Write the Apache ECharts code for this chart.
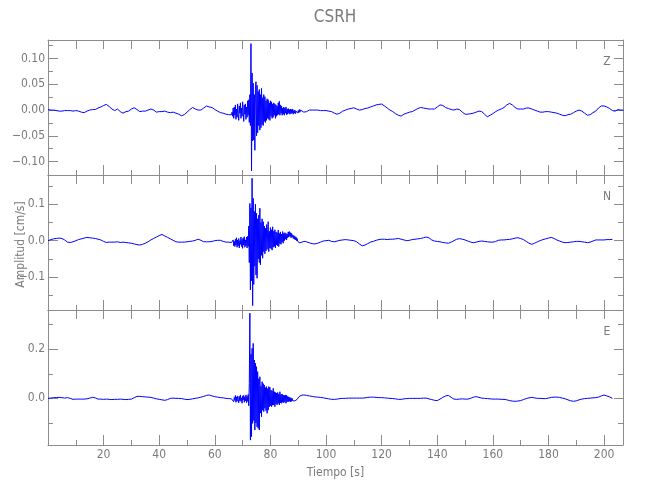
<!DOCTYPE html>
<html><head><meta charset="utf-8">
<script src="https://cdn.jsdelivr.net/npm/echarts@6/dist/echarts.min.js"></script>
<style>html,body{margin:0;padding:0;background:#fff}#c{width:650px;height:500px}</style>
</head><body><div id="c"></div>
<script>
// ---------------- data ----------------
const chartTitle = 'CSRH';
const components = ['Z', 'N', 'E'];
const xLabelName = 'Tiempo [s]';
const yLabelName = 'Amplitud [cm/s]';

// sampling of the traces: pre-event (1 s), strong motion (0.2 s), coda (1 s)
const sampleStart = [0, 66.2, 92];
const sampleStep = [1, 0.2, 1];

// tick labels
const xTickLabels = [20, 40, 60, 80, 100, 120, 140, 160, 180, 200];
const xMinorTicks = [10, 30, 50, 70, 90, 110, 130, 150, 170, 190];
const yTickLabels = [[-0.10, -0.05, 0, 0.05, 0.10], [-0.1, 0, 0.1], [0, 0.2]];
const yMinorTicks = [[-0.075, -0.025, 0.025, 0.075, 0.125], [-0.15, -0.05, 0.05, 0.15], [-0.1, 0.1, 0.3]];
const yDecimals = [2, 1, 1];

// Z component
const zPre = [
  0.001, 0.000, 0.000, -0.001, -0.002, -0.002, -0.001, -0.001, -0.001, -0.002,
  -0.001, -0.002, -0.004, -0.005, -0.002, 0.000, 0.001, 0.001, 0.004, 0.006,
  0.009, 0.011, 0.007, 0.002, -0.001, 0.002, -0.003, -0.006, -0.003, -0.002,
  0.002, 0.0045, 0.001, -0.003, -0.002, -0.002, 0.000, 0.002, 0.000, -0.004,
  -0.003, -0.003, -0.002, -0.004, -0.005, -0.004, -0.006, -0.008, -0.011, -0.009,
  -0.004, 0.001, 0.005, 0.002, 0.000, 0.000, 0.004, 0.008, 0.006, 0.005,
  0.001, -0.002, -0.005, -0.006, -0.008, -0.009, -0.009
];
const zBurst = [
  -0.004, -0.012, 0.004, -0.016, 0.006,
  -0.010, 0.010, -0.018, 0.002, -0.014,
  0.012, -0.008, -0.020, 0.008, -0.006,
  0.014, -0.016, 0.004, -0.012, 0.016,
  -0.004, -0.022, 0.010, -0.008, 0.012,
  -0.018, 0.006, -0.014, 0.018, -0.010,
  0.020, -0.024, 0.030, -0.030, 0.129,
  -0.118, 0.072, -0.060, 0.052, -0.058,
  0.030, -0.078, 0.040, 0.055, -0.050,
  0.048, -0.044, 0.036, -0.030, 0.040,
  -0.039, 0.030, -0.034, 0.042, -0.028,
  0.024, -0.030, 0.030, -0.022, 0.026,
  -0.024, 0.018, -0.020, 0.022, -0.016,
  0.020, -0.018, 0.014, -0.020, 0.018,
  -0.012, 0.016, -0.016, 0.012, -0.014,
  0.014, -0.010, 0.012, -0.016, 0.010,
  -0.012, 0.008, -0.010, 0.014, -0.008,
  0.017, -0.010, 0.010, -0.006, 0.008,
  -0.010, 0.004, -0.008, 0.006, -0.010,
  0.004, -0.006, 0.006, -0.009, 0.002,
  -0.008, 0.003, -0.006, 0.001, -0.008,
  0.002, -0.007, 0.001, -0.006, 0.002,
  -0.008, -0.001, -0.006, 0.000, -0.007,
  -0.002, -0.005, 0.000, -0.006, -0.001,
  -0.005, 0.001, -0.004, 0.000, -0.003
];
const zPost = [
  -0.004, -0.003, 0.000, 0.000, 0.000, 0.000, -0.001, -0.001, -0.001, -0.002,
  -0.003, -0.006, -0.008, -0.006, -0.002, 0.000, 0.002, 0.003, 0.0045, 0.002,
  0.000, 0.001, 0.003, 0.004, 0.006, 0.008, 0.010, 0.011, 0.0117, 0.008,
  0.004, 0.000, -0.003, -0.007, -0.010, -0.0117, -0.008, -0.006, -0.004, -0.003,
  0.000, 0.003, 0.005, 0.004, 0.003, 0.002, 0.002, 0.002, 0.006, 0.010,
  0.009, 0.005, 0.003, 0.001, 0.000, 0.002, 0.001, -0.004, -0.008, -0.008,
  -0.007, -0.006, -0.004, -0.002, -0.003, -0.008, -0.013, -0.010, -0.007, -0.003,
  0.000, 0.002, 0.005, 0.010, 0.013, 0.010, 0.005, 0.002, 0.002, 0.002,
  0.004, 0.004, 0.002, 0.000, -0.002, -0.004, -0.004, -0.003, -0.003, -0.004,
  -0.005, -0.006, -0.008, -0.010, -0.011, -0.009, -0.008, -0.005, -0.002, 0.000,
  -0.002, -0.006, -0.010, -0.009, -0.005, -0.002, 0.004, 0.008, 0.008, 0.006,
  0.003, -0.001, -0.002, 0.001, 0.000, 0.000
];

// N component
const nPre = [
  0.000, 0.003, 0.005, 0.006, 0.007, 0.006, 0.002, -0.004, -0.005, -0.003,
  0.000, 0.003, 0.005, 0.007, 0.009, 0.008, 0.007, 0.006, 0.004, 0.002,
  -0.002, -0.005, -0.004, -0.004, -0.004, -0.003, -0.005, -0.004, -0.005, -0.006,
  -0.007, -0.009, -0.011, -0.012, -0.010, -0.007, -0.003, 0.002, 0.006, 0.010,
  0.014, 0.017, 0.013, 0.009, 0.005, 0.001, -0.003, -0.004, -0.004, -0.004,
  -0.003, -0.002, -0.001, 0.001, 0.004, 0.001, -0.003, -0.003, -0.003, -0.002,
  0.000, 0.001, 0.001, -0.002, -0.004, -0.004, -0.005
];
const nBurst = [
  -0.004, -0.010, 0.002, -0.014, -0.002,
  -0.016, 0.004, -0.012, 0.008, -0.018,
  0.002, -0.014, 0.006, -0.020, 0.000,
  -0.010, 0.010, -0.016, 0.004, -0.021,
  0.008, -0.012, 0.011, -0.018, 0.002,
  -0.014, 0.010, -0.020, 0.012, -0.016,
  0.040, -0.060, 0.102, -0.135, 0.090,
  -0.110, 0.171, -0.178, 0.116, -0.120,
  0.080, -0.070, 0.100, -0.094, 0.075,
  -0.103, 0.060, -0.050, 0.070, -0.060,
  0.089, -0.066, 0.050, -0.040, 0.060,
  -0.048, 0.052, -0.030, 0.040, -0.036,
  0.034, -0.028, 0.044, -0.024, 0.030,
  0.052, -0.030, 0.026, -0.020, 0.036,
  -0.022, 0.030, -0.026, 0.038, -0.018,
  0.026, -0.016, 0.030, -0.020, 0.024,
  -0.012, 0.022, -0.014, 0.029, -0.016,
  0.020, -0.008, 0.024, -0.010, 0.018,
  -0.004, 0.025, -0.007, 0.020, 0.000,
  0.022, 0.004, 0.020, 0.002, 0.018,
  0.008, 0.024, 0.010, 0.025, 0.012,
  0.022, 0.008, 0.020, 0.010, 0.016,
  0.006, 0.014, 0.004, 0.012, 0.002,
  0.010, 0.000, 0.006, -0.002, 0.002,
  -0.004, 0.000, -0.006, -0.003, -0.007
];
const nPost = [
  -0.002, -0.003, -0.006, -0.008, -0.009, -0.007, -0.004, -0.001, 0.000, 0.001,
  -0.002, -0.003, -0.001, 0.001, 0.002, 0.003, 0.002, 0.001, 0.000, -0.003,
  -0.009, -0.014, -0.012, -0.008, -0.004, -0.002, 0.001, 0.003, 0.004, 0.004,
  0.003, 0.004, 0.004, 0.005, 0.006, 0.004, 0.002, 0.000, 0.001, 0.003,
  0.004, 0.005, 0.006, 0.008, 0.010, 0.008, 0.002, -0.001, -0.002, -0.003,
  -0.005, -0.006, -0.007, -0.004, 0.000, 0.004, 0.0055, 0.004, 0.002, -0.001,
  -0.004, -0.0055, -0.004, -0.002, -0.001, -0.002, -0.003, -0.004, -0.004, -0.002,
  0.001, 0.002, 0.002, 0.003, 0.0035, 0.005, 0.007, 0.008, 0.006, 0.003,
  -0.002, -0.007, -0.010, -0.007, -0.003, 0.000, 0.003, 0.005, 0.007, 0.009,
  0.006, 0.002, -0.001, -0.004, -0.0055, -0.005, -0.004, -0.003, -0.002, -0.002,
  -0.003, -0.004, -0.0055, -0.004, -0.001, 0.002, 0.002, 0.002, 0.002, 0.003,
  0.003, 0.0035
];

// E component
const ePre = [
  0.000, 0.001, 0.003, 0.003, 0.004, 0.003, 0.001, 0.003, 0.000, -0.004,
  -0.003, -0.003, -0.003, -0.003, -0.002, 0.001, 0.004, 0.002, -0.003, -0.003,
  -0.004, -0.003, -0.004, -0.005, -0.004, -0.004, -0.003, -0.004, -0.005, -0.004,
  -0.003, 0.003, 0.008, 0.008, 0.007, 0.006, 0.005, 0.004, 0.001, -0.002,
  -0.004, -0.006, -0.008, -0.005, 0.000, 0.001, 0.000, 0.000, -0.001, -0.003,
  -0.005, -0.004, -0.002, 0.000, 0.002, 0.005, 0.008, 0.012, 0.0136, 0.010,
  0.007, 0.005, 0.003, 0.002, 0.000, -0.001, -0.002
];
const eBurst = [
  -0.002, -0.010, 0.006, -0.014, 0.004,
  -0.008, 0.012, -0.016, 0.006, -0.012,
  0.010, -0.004, -0.018, 0.008, -0.010,
  0.014, -0.012, 0.002, -0.020, 0.010,
  -0.006, 0.012, -0.016, 0.006, -0.010,
  0.014, -0.018, 0.008, -0.012, 0.016,
  -0.030, 0.060, 0.347, -0.170, 0.180,
  -0.156, 0.204, -0.102, 0.224, -0.090,
  0.156, -0.129, 0.143, -0.100, 0.129,
  -0.116, 0.109, -0.122, 0.080, -0.129,
  0.088, -0.060, 0.050, -0.075, 0.068,
  -0.048, 0.060, -0.054, 0.054, -0.040,
  0.044, -0.050, 0.048, -0.061, 0.040,
  -0.048, 0.048, -0.034, 0.045, -0.030,
  0.034, -0.034, 0.030, -0.028, 0.041,
  -0.027, 0.027, -0.034, 0.024, -0.024,
  0.022, -0.026, 0.024, -0.020, 0.018,
  -0.027, 0.027, -0.018, 0.016, -0.020,
  0.018, -0.016, 0.014, -0.018, 0.012,
  -0.014, 0.014, -0.020, 0.012, -0.014,
  0.008, -0.014, 0.006, -0.012, 0.004,
  -0.014, 0.002, -0.012, 0.000, -0.010,
  -0.002, -0.012, -0.004, -0.010, -0.006,
  -0.008, -0.002, -0.004, 0.002, 0.000,
  0.006, 0.004, 0.010, 0.008, 0.012
];
const ePost = [
  0.014, 0.012, 0.010, 0.008, 0.006, 0.005, 0.004, 0.002, 0.000, -0.002,
  -0.004, -0.004, -0.003, -0.001, 0.000, 0.000, 0.001, 0.001, 0.001, 0.001,
  0.001, 0.001, 0.002, 0.004, 0.005, 0.005, 0.004, 0.003, 0.003, 0.002,
  0.001, 0.000, -0.001, -0.002, -0.004, -0.004, -0.002, -0.001, 0.000, 0.000,
  0.000, 0.000, 0.000, 0.001, 0.001, -0.002, -0.005, -0.008, -0.009, -0.003,
  0.004, 0.010, 0.012, 0.004, -0.003, -0.004, -0.003, -0.002, -0.003, -0.003,
  0.000, 0.005, 0.007, 0.004, 0.001, 0.000, -0.001, -0.002, -0.003, -0.003,
  -0.003, -0.004, -0.004, -0.006, -0.009, -0.011, -0.012, -0.011, -0.009, -0.005,
  -0.001, 0.002, 0.004, 0.002, 0.000, 0.000, -0.001, -0.001, 0.001, 0.004,
  0.005, 0.005, 0.004, 0.001, -0.002, -0.006, -0.010, -0.012, -0.010, -0.006,
  -0.003, -0.001, 0.000, 0.001, 0.002, 0.003, 0.005, 0.010, 0.0136, 0.010,
  0.006, 0.000
];

// ---------------- chart ----------------
const traces = [[zPre, zBurst, zPost], [nPre, nBurst, nPost], [ePre, eBurst, ePost]];
function buildTrace(parts) {
  const pts = [];
  parts.forEach((arr, k) => arr.forEach((v, i) => {
    pts.push([Math.round((sampleStart[k] + i * sampleStep[k]) * 100) / 100, v]);
  }));
  return pts;
}

const GRAY = '#8c8c8c';
const TEXT = '#7a7a7a';
const FONT = "'Liberation Sans Narrow','DejaVu Sans Condensed','Liberation Sans',sans-serif";
const X_MIN = 0, X_MAX = 206.8;
const yRanges = [[-0.126, 0.136], [-0.19, 0.18], [-0.19, 0.36]];
const panelTop = [40, 175, 310];
const panelLeft = 48, panelW = 575, panelH = 135;

const grids = [], xAxes = [], yAxes = [], series = [];
const lineSty = { color: GRAY, width: 1 };
const fmt = d => v => (v < 0 ? '\u2212' : '') + Math.abs(v).toFixed(d);

for (let i = 0; i < 3; i++) {
  grids.push({ left: panelLeft, top: panelTop[i], width: panelW, height: panelH });
  const xBase = { type: 'value', gridIndex: i, min: X_MIN, max: X_MAX, splitLine: { show: false } };
  const xMain = xAxes.length;
  xAxes.push(Object.assign({}, xBase, {
    position: 'bottom',
    axisLine: { show: true, onZero: false, lineStyle: lineSty },
    axisTick: { show: true, inside: true, length: 10, customValues: xTickLabels, lineStyle: lineSty },
    axisLabel: { show: i === 2, customValues: xTickLabels, margin: 4, color: TEXT, fontSize: 12, fontFamily: FONT },
    name: i === 2 ? xLabelName : '', nameLocation: 'middle', nameGap: 22,
    nameTextStyle: { color: TEXT, fontSize: 12, fontFamily: FONT }
  }));
  xAxes.push(Object.assign({}, xBase, {
    position: 'bottom',
    axisLine: { show: false, onZero: false },
    axisTick: { show: true, inside: true, length: 5, customValues: xMinorTicks, lineStyle: lineSty },
    axisLabel: { show: false }
  }));
  xAxes.push(Object.assign({}, xBase, {
    position: 'top',
    axisLine: { show: true, onZero: false, lineStyle: lineSty },
    axisTick: { show: true, inside: true, length: 9, customValues: xMinorTicks.concat(xTickLabels), lineStyle: lineSty },
    axisLabel: { show: false }
  }));

  const yBase = { type: 'value', gridIndex: i, min: yRanges[i][0], max: yRanges[i][1], splitLine: { show: false } };
  const yMain = yAxes.length;
  yAxes.push(Object.assign({}, yBase, {
    position: 'left',
    axisLine: { show: true, onZero: false, lineStyle: lineSty },
    axisTick: { show: true, inside: true, length: 10, customValues: yTickLabels[i], lineStyle: lineSty },
    axisLabel: { show: true, customValues: yTickLabels[i], formatter: fmt(yDecimals[i]), margin: 3, color: TEXT, fontSize: 12, fontFamily: FONT }
  }));
  yAxes.push(Object.assign({}, yBase, {
    position: 'left',
    axisLine: { show: false, onZero: false },
    axisTick: { show: true, inside: true, length: 5, customValues: yMinorTicks[i], lineStyle: lineSty },
    axisLabel: { show: false }
  }));
  yAxes.push(Object.assign({}, yBase, {
    position: 'right',
    axisLine: { show: true, onZero: false, lineStyle: lineSty },
    axisTick: { show: true, inside: true, length: 9, customValues: yTickLabels[i], lineStyle: lineSty },
    axisLabel: { show: false }
  }));
  yAxes.push(Object.assign({}, yBase, {
    position: 'right',
    axisLine: { show: false, onZero: false },
    axisTick: { show: true, inside: true, length: 5, customValues: yMinorTicks[i], lineStyle: lineSty },
    axisLabel: { show: false }
  }));

  series.push({
    type: 'line', name: components[i], xAxisIndex: xMain, yAxisIndex: yMain,
    data: buildTrace(traces[i]), showSymbol: false, symbol: 'none', clip: true, silent: true,
    lineStyle: { color: '#0000ff', width: 1 }
  });
}

const titles = [{
  text: chartTitle, left: 335, top: 9, textAlign: 'center', padding: 0,
  textStyle: { color: TEXT, fontSize: 17, fontWeight: 'normal', fontFamily: FONT }
}];
components.forEach((c, i) => titles.push({
  text: c, left: 607, top: panelTop[i] + 16, textAlign: 'center', padding: 0,
  textStyle: { color: TEXT, fontSize: 12, fontWeight: 'normal', fontFamily: FONT }
}));

const chart = echarts.init(document.getElementById('c'), null, { renderer: 'canvas' });
chart.setOption({
  animation: false,
  backgroundColor: '#ffffff',
  title: titles,
  grid: grids,
  xAxis: xAxes,
  yAxis: yAxes,
  series: series,
  graphic: [{
    type: 'text', x: 21, y: panelTop[1] + panelH / 2 + 2, rotation: Math.PI / 2, silent: true,
    style: { text: yLabelName, fill: TEXT, fontSize: 12, fontFamily: FONT, align: 'center', verticalAlign: 'middle' }
  }]
});
</script>
</body></html>
